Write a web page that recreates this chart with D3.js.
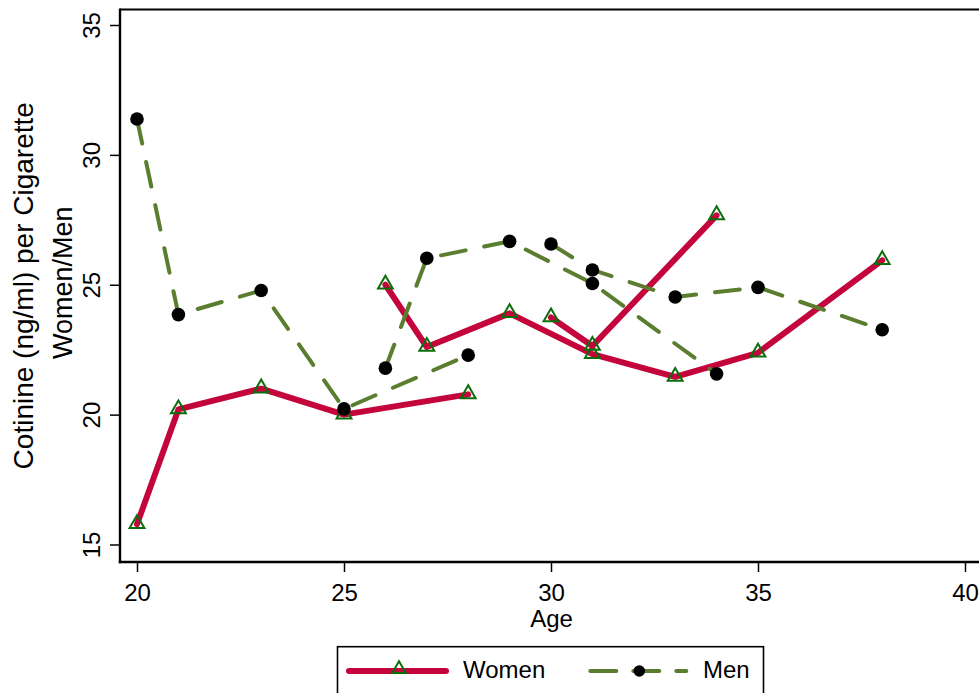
<!DOCTYPE html>
<html>
<head>
<meta charset="utf-8">
<script src="https://cdn.jsdelivr.net/npm/d3@7"></script>
<style>
  html, body { margin: 0; padding: 0; background: #fff; overflow: hidden; }
  svg { display: block; }
  text { font-family: "Liberation Sans", Arial, Helvetica, sans-serif; fill: #000; }
</style>
</head>
<body>
<svg id="chart" width="979" height="693"></svg>
<script>
// Cotinine per cigarette by age, three cohorts per sex
const womenAgesA = [20, 21, 23, 25, 28];
const womenValsA = [15.78, 20.2, 21.0, 20.0, 20.78];
const womenAgesB = [26, 27, 29, 31, 33, 35, 38];
const womenValsB = [25.0, 22.6, 23.9, 22.33, 21.45, 22.38, 25.94];
const womenAgesC = [30, 31, 34];
const womenValsC = [23.74, 22.64, 27.67];

const menAgesA = [20, 21, 23, 25, 28];
const menValsA = [31.38, 23.85, 24.78, 20.22, 22.29];
const menAgesB = [26, 27, 29, 31, 34];
const menValsB = [21.79, 26.02, 26.67, 25.05, 21.57];
const menAgesC = [30, 31, 33, 35, 38];
const menValsC = [26.57, 25.57, 24.53, 24.9, 23.27];

const xTicks = [20, 25, 30, 35, 40];
const yTicks = [15, 20, 25, 30, 35];
const seriesNames = ["Women", "Men"];

const WOMEN_COLOR = "#c4053c";
const MEN_COLOR = "#5a7d2f";
const TRI_COLOR = "#0b6e0b";

const svg = d3.select("#chart");

// plot region (extends a little past the right edge of the page)
const region = { left: 120, right: 983, top: 9.5, bottom: 562 };

const x = d3.scaleLinear().domain([20, 40]).range([137, 965]);
const y = d3.scaleLinear().domain([15, 35]).range([544.5, 25]);

const zip = (a, v) => a.map((d, i) => ({ age: d, val: v[i] }));
const women = [zip(womenAgesA, womenValsA), zip(womenAgesB, womenValsB), zip(womenAgesC, womenValsC)];
const men = [zip(menAgesA, menValsA), zip(menAgesB, menValsB), zip(menAgesC, menValsC)];

// axes
const yAxis = d3.axisLeft(y).tickValues(yTicks).tickSize(10).tickSizeOuter(0);
const gy = svg.append("g").attr("transform", `translate(${region.left},0)`).call(yAxis);
gy.select(".domain").remove();
gy.selectAll(".tick line").attr("stroke", "#000").attr("stroke-width", 1.5);
gy.selectAll(".tick text")
  .attr("transform", "rotate(-90)")
  .attr("x", 0).attr("y", -20).attr("dy", 0)
  .attr("text-anchor", "middle")
  .style("font-size", "24px");

const xAxis = d3.axisBottom(x).tickValues(xTicks).tickSize(10).tickSizeOuter(0);
const gx = svg.append("g").attr("transform", `translate(0,${region.bottom})`).call(xAxis);
gx.select(".domain").remove();
gx.selectAll(".tick line").attr("stroke", "#000").attr("stroke-width", 1.5);
gx.selectAll(".tick text")
  .attr("y", 38.5).attr("dy", 0)
  .style("font-size", "24px");

// plot region frame
svg.append("line").attr("x1", region.left).attr("x2", region.right)
  .attr("y1", region.top).attr("y2", region.top)
  .attr("stroke", "#000").attr("stroke-width", 2);
svg.append("line").attr("x1", region.left).attr("x2", region.left)
  .attr("y1", region.top - 1).attr("y2", region.bottom + 1.2)
  .attr("stroke", "#000").attr("stroke-width", 2.4);
svg.append("line").attr("x1", region.left - 1.2).attr("x2", region.right)
  .attr("y1", region.bottom).attr("y2", region.bottom)
  .attr("stroke", "#000").attr("stroke-width", 2.4);

// axis titles
const midY = (region.top + region.bottom) / 2;
svg.append("text")
  .attr("transform", `translate(33,${midY}) rotate(-90)`)
  .attr("text-anchor", "middle")
  .style("font-size", "28px")
  .text("Cotinine (ng/ml) per Cigarette");
svg.append("text")
  .attr("transform", `translate(71.5,${midY - 3}) rotate(-90)`)
  .attr("text-anchor", "middle")
  .style("font-size", "27px")
  .text("Women/Men");
svg.append("text")
  .attr("x", (region.left + region.right) / 2).attr("y", 626.5)
  .attr("text-anchor", "middle")
  .style("font-size", "24px")
  .text("Age");

const line = d3.line().x(d => x(d.age)).y(d => y(d.val));
const tri = d3.symbol().type(d3.symbolTriangle).size(95);
const triSmall = d3.symbol().type(d3.symbolTriangle).size(80);

// women: solid red lines with hollow green triangles
const gw = svg.append("g");
women.forEach(seg => {
  gw.append("path").datum(seg).attr("d", line)
    .attr("fill", "none").attr("stroke", WOMEN_COLOR)
    .attr("stroke-width", 6).attr("stroke-linejoin", "round").attr("stroke-linecap", "round");
  gw.selectAll(null).data(seg).enter().append("path")
    .attr("d", tri)
    .attr("transform", d => `translate(${x(d.age)},${y(d.val) - 0.5})`)
    .attr("fill", "none").attr("stroke", TRI_COLOR).attr("stroke-width", 2);
});

// men: dashed green lines with black dots
const gm = svg.append("g");
men.forEach(seg => {
  gm.append("path").datum(seg).attr("d", line)
    .attr("fill", "none").attr("stroke", MEN_COLOR)
    .attr("stroke-width", 4).attr("stroke-dasharray", "25,19")
    .attr("stroke-linecap", "round").attr("stroke-linejoin", "round");
  gm.selectAll(null).data(seg).enter().append("circle")
    .attr("cx", d => x(d.age)).attr("cy", d => y(d.val)).attr("r", 6.8)
    .attr("fill", "#000");
});

// legend
const lg = svg.append("g");
lg.append("rect").attr("x", 337.5).attr("y", 646.7).attr("width", 426).attr("height", 70)
  .attr("fill", "#fff").attr("stroke", "#000").attr("stroke-width", 1.6);
const ly = 671;
lg.append("line").attr("x1", 349).attr("x2", 446).attr("y1", ly).attr("y2", ly)
  .attr("stroke", WOMEN_COLOR).attr("stroke-width", 6).attr("stroke-linecap", "round");
lg.append("path").attr("d", triSmall).attr("transform", `translate(399,${ly - 2})`)
  .attr("fill", "none").attr("stroke", TRI_COLOR).attr("stroke-width", 2);
lg.append("text").attr("x", 463).attr("y", 677.5).style("font-size", "24px").text(seriesNames[0]);
lg.append("line").attr("x1", 590.3).attr("x2", 686.3).attr("y1", ly).attr("y2", ly)
  .attr("stroke", MEN_COLOR).attr("stroke-width", 4).attr("stroke-dasharray", "26,17")
  .attr("stroke-linecap", "round");
lg.append("circle").attr("cx", 639.3).attr("cy", ly).attr("r", 5.8).attr("fill", "#000");
lg.append("text").attr("x", 703).attr("y", 677.5).style("font-size", "24px").text(seriesNames[1]);
</script>
</body>
</html>
